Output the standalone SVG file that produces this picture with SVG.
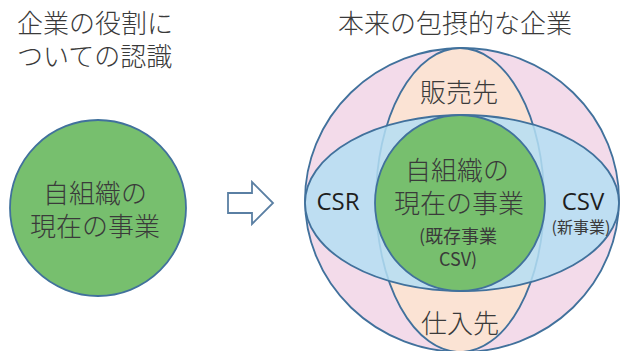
<svg xmlns="http://www.w3.org/2000/svg" width="624" height="351" viewBox="0 0 624 351">
<style>
.jp{font-family:"Noto Sans CJK JP","Noto Sans CJK SC",sans-serif;fill:#3a3a3a;text-anchor:middle}
.big{font-size:26px;font-weight:300}
.sm{font-size:18px}
.lat{font-family:"Open Sans","Noto Sans CJK JP",sans-serif;fill:#1e1e1e;text-anchor:middle}
.ln{stroke:#41719c;stroke-width:1.8}
</style>
<rect width="624" height="351" fill="#ffffff"/>
<g id="title-left">
<text class="jp big" x="17" y="33" style="text-anchor:start">企業の役割に</text>
<text class="jp big" x="17" y="66" style="text-anchor:start">ついての認識</text>
</g>
<g id="title-right">
<text class="jp big" x="455" y="33">本来の包摂的な企業</text>
</g>
<g id="left-circle">
<circle cx="98" cy="208" r="88" fill="#77bf6e" class="ln"/>
<text class="jp big" x="95" y="203">自組織の</text>
<text class="jp big" x="95" y="236">現在の事業</text>
</g>
<g id="arrow">
<path d="M228,193 H252 V182 L273,203 L252,224 V213 H228 Z" fill="#ffffff" stroke="#5a7fa3" stroke-width="1.8"/>
</g>
<g id="outer">
<ellipse cx="462" cy="200" rx="157" ry="152" fill="#f3dbea" class="ln"/>
</g>
<g id="vertical">
<ellipse cx="460" cy="200" rx="84" ry="152" fill="#fbe3d4" class="ln"/>
<text class="jp big" x="459" y="102">販売先</text>
<text class="jp big" x="460" y="333">仕入先</text>
</g>
<g id="horizontal">
<ellipse cx="462" cy="203" rx="157" ry="88" fill="#b4def3" fill-opacity="0.85" class="ln"/>
<text class="lat" x="338" y="210" font-size="24">CSR</text>
<text class="lat" x="583" y="210" font-size="24">CSV</text>
<text class="jp" x="581" y="233" font-size="16">(新事業)</text>
</g>
<g id="center">
<ellipse cx="460" cy="203" rx="85" ry="88" fill="#77bf6e" class="ln"/>
<text class="jp big" x="457" y="180">自組織の</text>
<text class="jp big" x="459" y="213">現在の事業</text>
<text class="jp sm" x="458" y="243">(既存事業</text>
<text class="jp sm" x="458" y="266">CSV)</text>
</g>
</svg>
